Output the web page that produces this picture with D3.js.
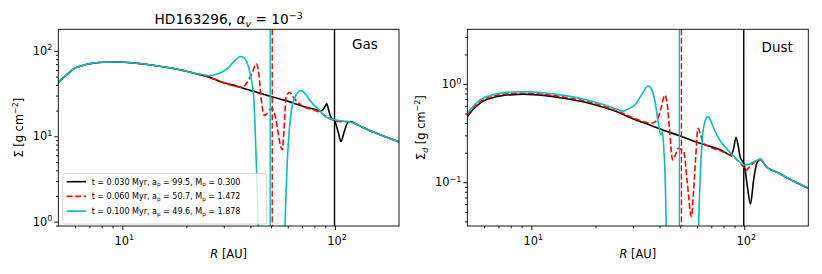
<!DOCTYPE html>
<html><head><meta charset="utf-8">
<script src="https://cdn.jsdelivr.net/npm/d3@7"></script>
<style>
body{margin:0;background:#fff;}
text{font-family:"DejaVu Sans",sans-serif;fill:#000;}
</style></head>
<body><svg id="c" width="822" height="274"></svg>
<script>
// ---- data ----
const seriesLabels = ["0.030","0.060","0.100"];
const planetA = [99.5, 50.7, 49.6];
const planetM = ["0.300","1.472","1.878"];
const colors = ["#000000","#ff0000","#00bfbf"];

const gasR_t1 = [5,5.2,5.5,5.94,6.5,7.4,8.2,9.2,10.2,11.4,14.2,17.7,22,27,29,33,37.9,40,50,60,70,80,86,89,91.4,93.3,95.6,100,103.8,106.7,110.6,114.8,118,128,143,170,200];
const gasS_t1 = [42.5,47,53,62,67.5,72,73.5,74,73.7,72,67.4,61.7,54.5,47,43.5,40,35.7,34.5,29.3,25.8,22.6,20.7,19.7,21.4,24,20.4,16.8,14.9,10.9,8.7,11.4,14.5,14.9,13.6,11.9,10,8.6];

const gasR_t2 = [5,5.2,5.5,5.94,6.5,7.4,8.2,9.2,10.2,11.4,14.2,17.7,22,27,30,34,36.5,38,39.5,40.8,42.6,43.8,44.7,45.5,46.7,48,49.3,50.5,51.7,53.5,55,56.5,57.6,58.9,61.3,64,67.6,70,80,86,95.6,100,104,110,115,118,128,143,170,200];
const gasS_t2 = [42.5,47,53,62,67.5,72,73.5,74,73.7,72,67.4,61.7,54.5,47,42.5,38.5,37.5,40.5,47,55,70.6,55,32,22,17.5,18.5,20.4,21,19.5,13,8.5,6.95,12,29.3,32.6,28,24.5,22.6,20.3,18.7,15.9,15.3,14.9,14.8,14.9,14.8,13.6,11.9,10,8.6];

const gasR_t3 = [5,5.2,5.5,5.94,6.5,7.4,8.2,9.2,10.2,11.4,14.2,17.7,22,24,26,28,30,32,34,35.9,37.5,39,40,41.5,42.6,43.6,44.5,57.5,58.3,59.8,61,63.1,66,69,72,77,86,90.6,99.4,110.6,118,128,143,170,200];
const gasS_t3 = [42.5,47,53,62,67.5,72,73.5,74,73.7,72,67.4,61.7,54.5,52.5,51.5,53.5,58,66,78,86,82,68,52.5,28,5.6,0.9,0.2,0.2,1.0,5.6,12,23.4,31,34.4,32,25.6,19.2,16.8,15.6,15,14.7,13.6,11.9,10,8.6];

const dustR_t1 = [5,5.2,5.5,5.94,6.5,7.4,8.2,9.2,10.2,11.4,14.2,17.7,22,27,29,33.5,40,50,62,70,77.6,86.5,89,91.5,93.5,95.6,100,103.5,107,110.7,114.6,119,127,144,170,200];
const dustS_t1 = [0.465,0.52,0.59,0.67,0.72,0.765,0.78,0.785,0.78,0.765,0.715,0.655,0.575,0.49,0.455,0.405,0.35,0.296,0.249,0.23,0.213,0.19,0.215,0.287,0.24,0.183,0.15,0.09,0.06,0.106,0.156,0.171,0.144,0.125,0.103,0.087];

const dustR_t2 = [5,5.2,5.5,5.94,6.5,7.4,8.2,9.2,10.2,11.4,14.2,17.7,22,27,30,33,36.6,39,40.5,42.4,43.5,44.5,46.1,47.5,49,50.5,52,54,56.5,57.8,59.1,60.7,62.5,64.4,67,70,77,86,90,95,100,102,105,108,114,119,127,144,170,200];
const dustS_t2 = [0.48,0.535,0.605,0.69,0.74,0.785,0.8,0.805,0.8,0.785,0.735,0.672,0.59,0.5,0.452,0.42,0.398,0.43,0.55,0.77,0.62,0.36,0.169,0.19,0.222,0.215,0.205,0.1,0.0447,0.08,0.175,0.354,0.3,0.249,0.235,0.225,0.21,0.187,0.178,0.16,0.14,0.131,0.14,0.15,0.165,0.171,0.144,0.125,0.103,0.087];

const dustR_t3 = [5,5.2,5.5,5.94,6.5,7.4,8.2,9.2,10.2,11.4,14.2,17.7,22,25,27,29,31,33,35.4,37,38.3,39.4,40.6,41.3,42,42.5,43,43.5,60.5,61.1,62.2,63.8,65.5,67.5,70,73,77.4,80,85,89.8,93,97,100,105,110,114,119,127,144,170,200];
const dustS_t3 = [0.503,0.56,0.635,0.72,0.77,0.815,0.83,0.835,0.83,0.815,0.765,0.7,0.615,0.56,0.53,0.565,0.63,0.78,0.954,0.85,0.62,0.413,0.303,0.327,0.2,0.118,0.037,0.01,0.01,0.037,0.118,0.303,0.42,0.465,0.41,0.33,0.262,0.24,0.205,0.182,0.168,0.155,0.15,0.152,0.16,0.167,0.171,0.144,0.125,0.103,0.087];

const xTicksMajor = [10, 100];
const gasYTicksMajor = [1, 10, 100];
const dustYTicksMajor = [0.1, 1];

// ---- drawing ----
const svg = d3.select("#c");
const FS = 11.4;

function minorTicks(domain){
  const out=[]; const lo=Math.floor(Math.log10(domain[0])), hi=Math.ceil(Math.log10(domain[1]));
  for(let e=lo;e<=hi;e++) for(let m=2;m<=9;m++){const v=m*Math.pow(10,e); if(v>=domain[0]*1.0001&&v<=domain[1]*0.9999) out.push(v);}
  return out;
}
function powLabel(sel, v){
  const e = Math.round(Math.log10(v));
  sel.append("tspan").text("10");
  sel.append("tspan").attr("dy",-4.6).attr("font-size",FS*0.7).text(e<0?"\u2212"+(-e):String(e));
}

function panel(opts){
  const {x0,x1,y0,y1,ydom,yMajor,series,label,ylabelParts,ylabelX,tagX,tagY} = opts;
  const x = d3.scaleLog().domain([5,200]).range([x0,x1]);
  const y = d3.scaleLog().domain(ydom).range([y1,y0]);
  const g = svg.append("g");
  const id = "clip"+Math.round(x0);
  svg.append("clipPath").attr("id",id).append("rect").attr("x",x0).attr("y",y0).attr("width",x1-x0).attr("height",y1-y0);
  const plot = g.append("g").attr("clip-path",`url(#${id})`);
  const line = d3.line().x(d=>x(d[0])).y(d=>y(Math.max(d[1],1e-4))).curve(d3.curveMonotoneX);
  series.forEach((s,i)=>{
    const pts = s.R.map((r,k)=>[r,s.S[k]]);
    plot.append("path").attr("d",line(pts)).attr("fill","none").attr("stroke",colors[i])
      .attr("stroke-width",1.6).attr("stroke-dasharray",i===1?"5.9,2.6":null).attr("stroke-linejoin","round");
    plot.append("line").attr("x1",x(planetA[i])).attr("x2",x(planetA[i])).attr("y1",y0).attr("y2",y1)
      .attr("stroke",colors[i]).attr("stroke-width",1.4).attr("stroke-dasharray",i===1?"5.9,2.6":null);
  });
  // axes
  const ax = g.append("g").attr("transform",`translate(0,${y1})`);
  ax.call(d3.axisBottom(x).tickValues(xTicksMajor).tickSize(4).tickFormat(""));
  const axm = g.append("g").attr("transform",`translate(0,${y1})`);
  axm.call(d3.axisBottom(x).tickValues(minorTicks([5,200])).tickSize(2.3).tickFormat(""));
  const ay = g.append("g").attr("transform",`translate(${x0},0)`);
  ay.call(d3.axisLeft(y).tickValues(yMajor).tickSize(4).tickFormat(""));
  const aym = g.append("g").attr("transform",`translate(${x0},0)`);
  aym.call(d3.axisLeft(y).tickValues(minorTicks(ydom)).tickSize(2.3).tickFormat(""));
  g.selectAll(".domain").remove();
  g.selectAll(".tick line").attr("stroke","#000").attr("stroke-width",0.9);
  g.append("rect").attr("x",x0).attr("y",y0).attr("width",x1-x0).attr("height",y1-y0)
    .attr("fill","none").attr("stroke","#000").attr("stroke-width",0.9);
  xTicksMajor.forEach(v=>{
    const t=g.append("text").attr("x",x(v)+2).attr("y",y1+18.5).attr("text-anchor","middle").attr("font-size",FS);
    powLabel(t,v);
  });
  yMajor.forEach(v=>{
    const t=g.append("text").attr("x",x0-6).attr("y",y(v)+4.2).attr("text-anchor","end").attr("font-size",FS);
    powLabel(t,v);
  });
  // x label
  const xl = g.append("text").attr("x",(x0+x1)/2).attr("y",257.5).attr("text-anchor","middle").attr("font-size",FS);
  xl.append("tspan").attr("font-style","italic").text("R");
  xl.append("tspan").text(" [AU]");
  // y label
  const yl = g.append("text").attr("transform",`translate(${ylabelX},${(y0+y1)/2}) rotate(-90)`).attr("text-anchor","middle").attr("font-size",FS);
  ylabelParts(yl);
  g.append("text").attr("x",tagX).attr("y",tagY).attr("font-size",13.5).text(label);
  return {x,y,g};
}

const gasSeries = [{R:gasR_t1,S:gasS_t1},{R:gasR_t2,S:gasS_t2},{R:gasR_t3,S:gasS_t3}];
const dustSeries = [{R:dustR_t1,S:dustS_t1},{R:dustR_t2,S:dustS_t2},{R:dustR_t3,S:dustS_t3}];

const L = panel({x0:58.3,x1:399,y0:29.3,y1:226,ydom:[0.89,179],yMajor:gasYTicksMajor,series:gasSeries,label:"Gas",
  ylabelX:22.5,tagX:352,tagY:49,
  ylabelParts:t=>{t.append("tspan").text("\u03A3 [g cm");t.append("tspan").attr("dy",-4.6).attr("font-size",FS*0.7).text("\u22122");t.append("tspan").attr("dy",4.6).text("]");}});
const Rp = panel({x0:467.3,x1:808.3,y0:29.3,y1:226,ydom:[0.0359,3.6],yMajor:dustYTicksMajor,series:dustSeries,label:"Dust",
  ylabelX:425,tagX:761.5,tagY:52,
  ylabelParts:t=>{t.append("tspan").text("\u03A3");t.append("tspan").attr("dy",2.6).attr("font-size",FS*0.7).attr("font-style","italic").text("d");
    t.append("tspan").attr("dy",-2.6).text(" [g cm");t.append("tspan").attr("dy",-4.6).attr("font-size",FS*0.7).text("\u22122");t.append("tspan").attr("dy",4.6).text("]");}});

// title
const ti = svg.append("text").attr("x",228.7).attr("y",24).attr("text-anchor","middle").attr("font-size",13.7);
ti.append("tspan").text("HD163296, ");
ti.append("tspan").attr("font-style","italic").text("\u03B1");
ti.append("tspan").attr("dy",2.8).attr("font-size",13.7*0.7).attr("font-style","italic").text("v");
ti.append("tspan").attr("dy",-2.8).text(" = 10");
ti.append("tspan").attr("dy",-5.5).attr("font-size",13.7*0.7).text("\u22123");

// legend
const lg = svg.append("g");
lg.append("rect").attr("x",62.7).attr("y",173.3).attr("width",204).attr("height",50.7).attr("rx",2.5)
  .attr("fill","#fff").attr("fill-opacity",0.8).attr("stroke","#d0d0d0").attr("stroke-width",0.9);
seriesLabels.forEach((t,i)=>{
  const yy = 181.7 + i*14.7;
  lg.append("line").attr("x1",66.7).attr("x2",86).attr("y1",yy).attr("y2",yy).attr("stroke",colors[i])
    .attr("stroke-width",1.6).attr("stroke-dasharray",i===1?"5.9,2.6":null);
  const tx = lg.append("text").attr("x",91.7).attr("y",yy+2.9).attr("font-size",8);
  tx.append("tspan").text(`t = ${t} Myr, a`);
  tx.append("tspan").attr("dy",1.8).attr("font-size",5.6).text("p");
  tx.append("tspan").attr("dy",-1.8).text(` = ${planetA[i].toFixed(1)}, M`);
  tx.append("tspan").attr("dy",1.8).attr("font-size",5.6).text("p");
  tx.append("tspan").attr("dy",-1.8).text(` = ${planetM[i]}`);
});
</script></body></html>
